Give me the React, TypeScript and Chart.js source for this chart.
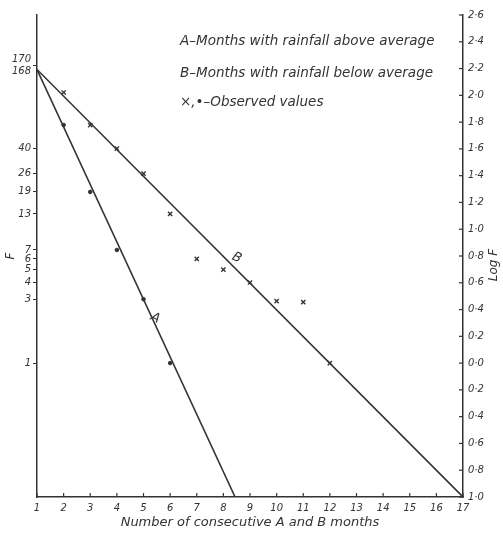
import { useEffect, useRef } from "react";
import { Chart, registerables } from "chart.js";
Chart.register(...registerables);

// ---- data ----
const monthTicks = { min: 1, max: 17, step: 1 };
const logFRange = { min: -1, max: 2.6, step: 0.2 };
const leftTickValues = [1, 3, 4, 5, 6, 7, 13, 19, 26, 40, 168];
const leftTopLabels = ["170", "168"];

const lineAMonths = [1, 8.44];
const lineAF = [156, 0.1];
const lineBMonths = [1, 17];
const lineBF = [156, 0.1];

const obsAMonths = [2, 3, 4, 5, 6];
const obsAF = [60, 19, 7, 3, 1];
const obsBMonths = [2, 3, 4, 5, 6, 7, 8, 9, 10, 11, 12];
const obsBF = [105, 60, 40, 26, 13, 6, 5, 4, 2.9, 2.85, 1];

const legendLines = [
  "A–Months with rainfall above average",
  "B–Months with rainfall below average",
  "×,•–Observed values",
];
const xTitle = "Number of consecutive A and B months";
const leftTitle = "F";
const rightTitle = "Log F";

const INK = "#333333";
const FONT = "DejaVu Sans";

const pts = (xs: number[], ys: number[]) => xs.map((x, i) => ({ x, y: ys[i] }));

const decor = {
  id: "decor",
  beforeDraw(chart: any) {
    const { ctx, width, height } = chart;
    ctx.save();
    ctx.fillStyle = "#ffffff";
    ctx.fillRect(0, 0, width, height);
    ctx.restore();
  },
  afterDraw(chart: any) {
    const { ctx, chartArea } = chart;
    const xs = chart.scales.x;
    const ys = chart.scales.y;
    const yr = chart.scales.yr;
    ctx.save();
    ctx.strokeStyle = INK;
    ctx.lineWidth = 1.2;
    // inward ticks on x axis
    xs.ticks.forEach((t: any) => {
      const px = xs.getPixelForValue(t.value);
      ctx.beginPath();
      ctx.moveTo(px, chartArea.bottom);
      ctx.lineTo(px, chartArea.bottom - 4);
      ctx.stroke();
    });
    // inward ticks on right axis
    yr.ticks.forEach((t: any) => {
      const py = yr.getPixelForValue(t.value);
      ctx.beginPath();
      ctx.moveTo(chartArea.right, py);
      ctx.lineTo(chartArea.right - 4, py);
      ctx.stroke();
    });
    // legend text
    ctx.fillStyle = INK;
    ctx.font = `italic 13.5px "${FONT}"`;
    ctx.textAlign = "left";
    ctx.textBaseline = "middle";
    const legendY = [41, 73, 102];
    legendLines.forEach((s, i) => ctx.fillText(s, 180, legendY[i]));
    // line labels
    ctx.font = `italic 13px "${FONT}"`;
    const lab = (txt: string, mx: number, f: number, rot: number) => {
      ctx.save();
      ctx.translate(xs.getPixelForValue(mx), ys.getPixelForValue(f));
      ctx.rotate(rot);
      ctx.textAlign = "center";
      ctx.fillText(txt, 0, 0);
      ctx.restore();
    };
    lab("A", 5.44, 2.17, 0.45);
    lab("B", 8.5, 6.1, 0.45);
    // right title
    ctx.save();
    ctx.translate(494, 265);
    ctx.rotate(-Math.PI / 2);
    ctx.textAlign = "center";
    ctx.font = `italic 12px "${FONT}"`;
    ctx.fillText(rightTitle, 0, 0);
    ctx.restore();
    ctx.restore();
  },
};

export default function App() {
  const ref = useRef<HTMLCanvasElement>(null);
  useEffect(() => {
    document.body.style.margin = "0";
    const tickFont = { family: FONT, style: "italic" as const, size: 10 };
    const chart = new Chart(ref.current!, {
      type: "scatter",
      data: {
        datasets: [
          {
            type: "line",
            label: "A",
            data: pts(lineAMonths, lineAF),
            borderColor: INK,
            borderWidth: 1.6,
            pointRadius: 0,
            yAxisID: "y",
          },
          {
            type: "line",
            label: "B",
            data: pts(lineBMonths, lineBF),
            borderColor: INK,
            borderWidth: 1.6,
            pointRadius: 0,
            yAxisID: "y",
          },
          {
            label: "A observed",
            data: pts(obsAMonths, obsAF),
            pointStyle: "circle",
            pointRadius: 1.8,
            backgroundColor: INK,
            borderColor: INK,
            yAxisID: "y",
          },
          {
            label: "B observed",
            data: pts(obsBMonths, obsBF),
            pointStyle: "crossRot",
            pointRadius: 3,
            borderWidth: 1.4,
            borderColor: INK,
            yAxisID: "y",
          },
        ],
      } as any,
      options: {
        animation: false,
        responsive: false,
        devicePixelRatio: 1,
        layout: { padding: { top: 15, left: 0, right: 0, bottom: 0 } },
        plugins: { legend: { display: false }, tooltip: { enabled: false } },
        scales: {
          x: {
            type: "linear",
            min: monthTicks.min,
            max: monthTicks.max,
            ticks: { stepSize: monthTicks.step, color: INK, font: tickFont, padding: 5 },
            grid: { drawOnChartArea: false, drawTicks: false, color: INK },
            border: { color: INK, width: 1.5 },
            title: {
              display: true,
              text: xTitle,
              color: INK,
              font: { family: FONT, style: "italic", size: 13 },
              padding: { top: 2, bottom: 3 },
            },
            afterFit: (s: any) => {
              s.height = 36;
            },
          },
          y: {
            type: "logarithmic",
            position: "left",
            min: Math.pow(10, logFRange.min),
            max: Math.pow(10, logFRange.max),
            afterBuildTicks: (s: any) => {
              s.ticks = leftTickValues.map((v) => ({ value: v }));
            },
            ticks: {
              autoSkip: false,
              color: INK,
              font: tickFont,
              padding: 2,
              callback: (v: any) => (v === 168 ? leftTopLabels : String(v)),
            },
            grid: { drawOnChartArea: false, drawTicks: true, tickLength: 4, color: INK },
            border: { color: INK, width: 1.5 },
            title: {
              display: true,
              text: leftTitle,
              color: INK,
              font: { family: FONT, style: "italic", size: 12 },
              padding: { top: 4, bottom: 0 },
            },
            afterFit: (s: any) => {
              s.width = 37;
            },
          },
          yr: {
            type: "linear",
            position: "right",
            min: logFRange.min,
            max: logFRange.max,
            afterBuildTicks: (s: any) => {
              const arr = [];
              const n = Math.round((logFRange.max - logFRange.min) / logFRange.step);
              for (let i = 0; i <= n; i++) arr.push({ value: logFRange.min + i * logFRange.step });
              s.ticks = arr;
            },
            ticks: {
              autoSkip: false,
              color: INK,
              font: tickFont,
              padding: 5,
              callback: (v: any) => Math.abs(Number(v)).toFixed(1).replace(".", "·"),
            },
            grid: { drawOnChartArea: false, drawTicks: false, color: INK },
            border: { color: INK, width: 1.5 },
            afterFit: (s: any) => {
              s.width = 40;
            },
          },
        },
      },
      plugins: [decor],
    });
    return () => chart.destroy();
  }, []);
  return (
    <div style={{ width: 503, height: 533 }}>
      <canvas ref={ref} width={503} height={533} style={{ display: "block" }} />
    </div>
  );
}
